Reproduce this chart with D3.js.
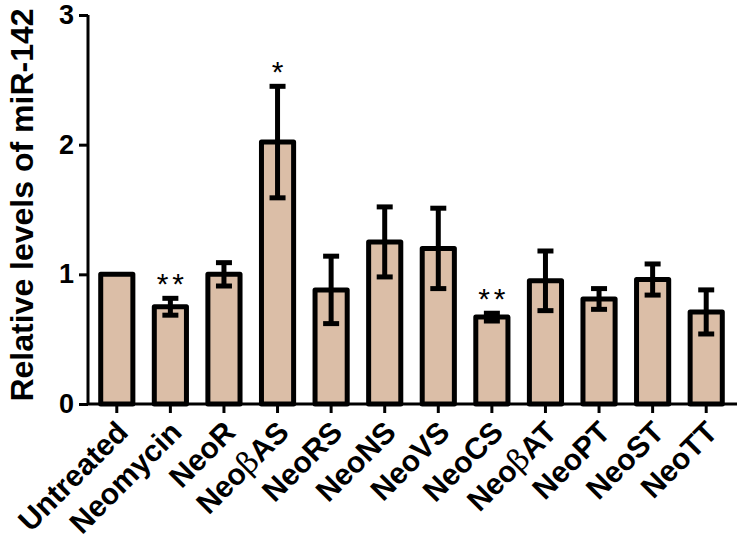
<!DOCTYPE html>
<html lang="en">
<head>
    <meta charset="UTF-8">
    <script src="https://cdn.jsdelivr.net/npm/d3@7"></script>
    <title>miR-142</title>
    <style>
        body { margin: 0; background: #fff; }
        text { font-family: "Liberation Sans", Arial, sans-serif; }
    </style>
</head>
<body>
<script>
    // data
    const groups = ["Untreated", "Neomycin", "NeoR", "NeoβAS", "NeoRS", "NeoNS", "NeoVS", "NeoCS", "NeoβAT", "NeoPT", "NeoST", "NeoTT"];
    const means = [1.0, 0.75, 1.0, 2.02, 0.88, 1.25, 1.2, 0.67, 0.95, 0.81, 0.96, 0.71];
    const errs = [0, 0.065, 0.09, 0.43, 0.26, 0.27, 0.31, 0.03, 0.23, 0.08, 0.12, 0.17];
    const stars = ["", "**", "", "*", "", "", "", "**", "", "", "", ""];
    const yTicks = [0, 1, 2, 3];

    const W = 739, H = 541;
    const svg = d3.select("body").append("svg").attr("width", W).attr("height", H);

    const x = d3.scaleBand().domain(groups).range([90, 733]).paddingInner(0.4).paddingOuter(0.2);
    const y = d3.scaleLinear().domain([0, 3]).range([404, 15]);

    // bars
    svg.selectAll(".bar").data(groups).enter().append("rect")
        .attr("class", "bar")
        .attr("x", d => x(d))
        .attr("y", (d, i) => y(means[i]))
        .attr("width", x.bandwidth())
        .attr("height", (d, i) => y(0) - y(means[i]))
        .attr("fill", "#dbbea7")
        .attr("stroke", "#000")
        .attr("stroke-width", 5)
        .attr("stroke-linejoin", "round");

    // error bars (mean +/- sem)
    const cap = 16;
    groups.forEach((g, i) => {
        if (errs[i] === 0) return;
        const cx = x(g) + x.bandwidth() / 2;
        const eb = svg.append("g").attr("stroke", "#000").attr("stroke-width", 5);
        eb.append("line").attr("x1", cx).attr("x2", cx)
            .attr("y1", y(means[i] + errs[i])).attr("y2", y(means[i] - errs[i]));
        [means[i] + errs[i], means[i] - errs[i]].forEach(v => {
            eb.append("line").attr("x1", cx - cap / 2).attr("x2", cx + cap / 2)
                .attr("y1", y(v)).attr("y2", y(v));
        });
        if (stars[i]) {
            svg.append("text").attr("x", cx + 2).attr("y", y(means[i] + errs[i]) - 4)
                .attr("text-anchor", "middle")
                .attr("font-size", 30)
                .attr("letter-spacing", 4)
                .text(stars[i]);
        }
    });

    // y axis
    const yAxis = svg.append("g").attr("transform", "translate(88,0)")
        .call(d3.axisLeft(y).tickValues(yTicks).tickSize(9).tickPadding(5).tickFormat(d3.format("d")));
    yAxis.select(".domain").attr("stroke-width", 3).attr("d", "M0," + y(3) + "V" + y(0));
    yAxis.selectAll(".tick line").attr("stroke-width", 3);
    yAxis.selectAll(".tick text").attr("font-size", 27).attr("font-weight", "bold")
        .attr("font-family", "Liberation Sans, Arial, sans-serif");

    // x axis
    const xAxis = svg.append("g").attr("transform", "translate(0," + y(0) + ")")
        .call(d3.axisBottom(x).tickSize(9).tickSizeOuter(0).tickFormat(""));
    xAxis.select(".domain").attr("stroke-width", 3).attr("d", "M87,0H737");
    xAxis.selectAll(".tick line").attr("stroke-width", 3);

    // rotated group labels
    const lbl = svg.append("g");
    groups.forEach(g => {
        const cx = x(g) + x.bandwidth() / 2;
        const t = lbl.append("text")
            .attr("transform", "translate(" + (cx + 13) + ",434) rotate(-45)")
            .attr("text-anchor", "end")
            .attr("font-size", 30)
            .attr("font-weight", "bold");
        if (g.includes("β")) {
            const parts = g.split("β");
            t.append("tspan").text(parts[0]);
            t.append("tspan").attr("font-weight", "normal").attr("font-family", "DejaVu Serif, serif").text("β");
            t.append("tspan").text(parts[1]);
        } else {
            t.text(g);
        }
    });

    // y title
    svg.append("text")
        .attr("transform", "translate(33,205) rotate(-90)")
        .attr("text-anchor", "middle")
        .attr("font-size", 32)
        .attr("font-weight", "bold")
        .text("Relative levels of miR-142");
</script>
</body>
</html>
